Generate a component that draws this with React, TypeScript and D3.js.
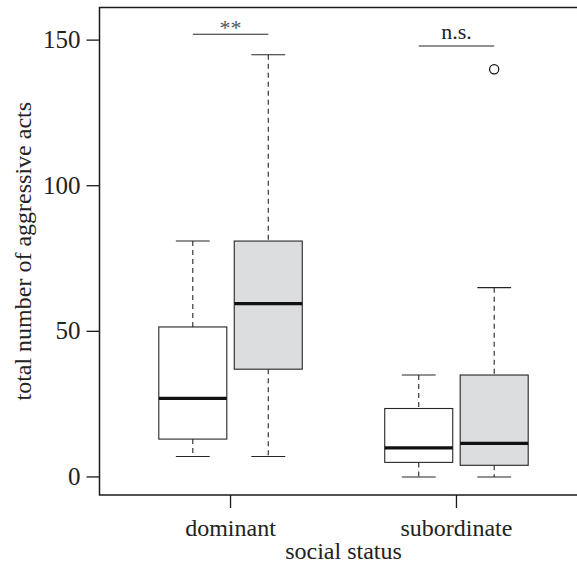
import React from "react";
import * as d3 from "d3";

const categories = ["dominant", "subordinate"];
const seriesNames = ["white", "grey"];
// [category][series]
const whiskerLow = [[7, 7], [0, 0]];
const q1 = [[13, 37], [5, 4]];
const medians = [[27, 59.5], [10, 11.5]];
const q3 = [[51.5, 81], [23.5, 35]];
const whiskerHigh = [[81, 145], [35, 65]];
const outliers = [[[], []], [[], [140]]];
const sigLabels = ["**", "n.s."];
const sigHeights = [152, 148];
const yTicks = [0, 50, 100, 150];
const yLabel = "total number of aggressive acts";
const xLabel = "social status";
const fills = ["#ffffff", "#dcdddf"];

const W = 577;
const H = 563;
const FONT = "Liberation Serif";

export default function App() {
  const left = 99.5;
  const right = 587.5;
  const top = 7.5;
  const bottom = 495;
  const x = d3.scaleLinear().domain([0.42, 2.58]).range([left, right]);
  const y = d3.scaleLinear().domain([-6.2, 161.2]).range([bottom, top]);
  const off = 0.167;
  const boxW = 0.301;
  const capW = 0.15;
  const boxX = (ci: number, si: number) => ci + 1 + (si === 0 ? -off : off);
  const ink = "#262626";
  const ts = { fontFamily: FONT };

  return (
    <svg
      width={W}
      height={H}
      style={{ position: "absolute", left: 0, top: 0, background: "#fff" }}
    >
      {categories.map((c, ci) =>
        seriesNames.map((s, si) => {
          const cx = x(boxX(ci, si));
          const bw = x(boxW) - x(0);
          const cw = x(capW) - x(0);
          return (
            <g key={c + s}>
              <line x1={cx} x2={cx} y1={y(whiskerHigh[ci][si])} y2={y(q3[ci][si])} stroke={ink} strokeWidth={1.1} strokeDasharray="5,4" />
              <line x1={cx} x2={cx} y1={y(q1[ci][si])} y2={y(whiskerLow[ci][si])} stroke={ink} strokeWidth={1.1} strokeDasharray="5,4" />
              <line x1={cx - cw / 2} x2={cx + cw / 2} y1={y(whiskerHigh[ci][si])} y2={y(whiskerHigh[ci][si])} stroke={ink} strokeWidth={1.1} />
              <line x1={cx - cw / 2} x2={cx + cw / 2} y1={y(whiskerLow[ci][si])} y2={y(whiskerLow[ci][si])} stroke={ink} strokeWidth={1.1} />
              <rect x={cx - bw / 2} y={y(q3[ci][si])} width={bw} height={y(q1[ci][si]) - y(q3[ci][si])} fill={fills[si]} stroke={ink} strokeWidth={1.1} />
              <line x1={cx - bw / 2} x2={cx + bw / 2} y1={y(medians[ci][si])} y2={y(medians[ci][si])} stroke="#111" strokeWidth={3.2} />
              {outliers[ci][si].map((o, oi) => (
                <circle key={oi} cx={cx} cy={y(o)} r={4.6} fill="none" stroke="#111" strokeWidth={1.2} />
              ))}
            </g>
          );
        })
      )}
      {categories.map((c, ci) => {
        const x1 = x(boxX(ci, 0));
        const x2 = x(boxX(ci, 1));
        const yy = y(sigHeights[ci]);
        return (
          <g key={"sig" + c}>
            <line x1={x1} x2={x2} y1={yy} y2={yy} stroke={ink} strokeWidth={1.1} />
            <text x={(x1 + x2) / 2} y={ci === 0 ? yy + 1 : yy - 7} textAnchor="middle" fontSize={22} fill={ci === 0 ? "#555" : "#222"} style={ts}>
              {sigLabels[ci]}
            </text>
          </g>
        );
      })}
      {/* frame */}
      <rect x={left} y={top} width={right - left} height={bottom - top} fill="none" stroke="#1a1a1a" strokeWidth={1.5} />
      {/* y axis */}
      {yTicks.map((t) => (
        <g key={t}>
          <line x1={left - 13} x2={left} y1={y(t)} y2={y(t)} stroke="#1a1a1a" strokeWidth={1.3} />
          <text x={left - 19} y={y(t) + 8} textAnchor="end" fontSize={25} fill="#222" style={ts}>
            {t}
          </text>
        </g>
      ))}
      {/* x axis */}
      {categories.map((c, ci) => (
        <g key={c}>
          <line x1={x(ci + 1)} x2={x(ci + 1)} y1={bottom} y2={bottom + 13} stroke="#1a1a1a" strokeWidth={1.3} />
          <text x={x(ci + 1)} y={536} textAnchor="middle" fontSize={24} fill="#222" style={ts}>
            {c}
          </text>
        </g>
      ))}
      <text x={(left + right) / 2} y={559} textAnchor="middle" fontSize={24} fill="#222" style={ts}>
        {xLabel}
      </text>
      <text transform={`translate(31, ${(top + bottom) / 2}) rotate(-90)`} textAnchor="middle" fontSize={24} fill="#222" style={ts}>
        {yLabel}
      </text>
    </svg>
  );
}
